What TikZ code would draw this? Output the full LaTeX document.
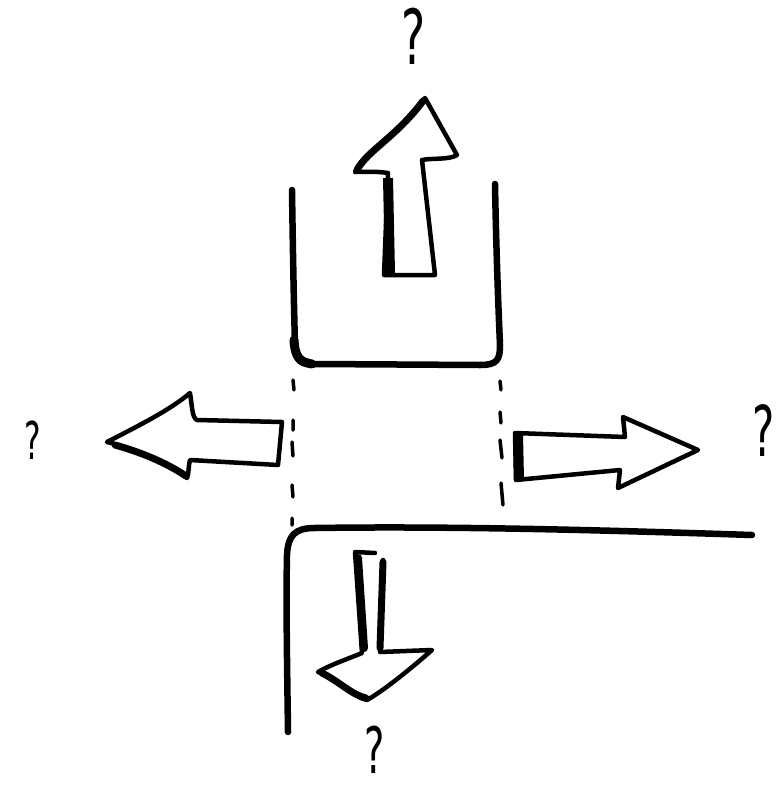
\documentclass[tikz,border=0pt]{standalone}
\usepackage{fontspec}
\newfontfamily\qfont{DejaVu Sans}
\begin{document}
\begin{tikzpicture}[x=1pt,y=-1pt,
  ink/.style={line width=6.5pt,line cap=round,line join=round},
  arr/.style={line width=4.5pt,line cap=round,line join=round},
  heavy/.style={line width=10pt,line cap=butt},
  dots/.style={line width=3.5pt,line cap=round},
  qm/.style={inner sep=0pt,font=\qfont\fontsize{76}{76}\selectfont,xscale=0.6}]
\useasboundingbox[fill=white] (0,0) rectangle (782,795);
% U shape (top box)
\draw[ink] (292,190) .. controls (293,260) and (294,310) .. (295,345)
  .. controls (296,362) and (300,364) .. (315,364) -- (480,365)
  .. controls (497,365) and (500,360) .. (500,345)
  .. controls (498,300) and (496,240) .. (495,184);
\draw[line width=9pt,line cap=round] (294,340) .. controls (295,358) and (300,362) .. (312,364);
% dotted gaps
\draw[dots] (293,380)--(294,390) (293,420)--(293,430) (292,442)--(293,456) (292,485)--(293,497) (292,518)--(292,525);
\draw[dots] (500,381)--(501,390) (500,412)--(501,423) (500,440)--(502,458) (501,483)--(503,505);
% bottom L shape
\draw[ink] (288,732) .. controls (287,660) and (286,600) .. (287,555)
  .. controls (288,535) and (295,528) .. (315,528)
  .. controls (450,526) and (600,530) .. (752,535);
% top arrow
\draw[arr,fill=white] (425,98) -- (457,155) .. controls (450,160) and (430,158) .. (422,160)
  -- (435,275) -- (384,275) -- (388,173) .. controls (375,171) and (362,172) .. (355,172)
  .. controls (362,155) and (385,142) .. (400,128) -- cycle;
\draw[heavy] (388,178) -- (390,273);
\draw[line width=7pt,line cap=round] (357,170) .. controls (368,150) and (395,138) .. (423,101);
% left arrow
\draw[arr,fill=white] (107,442) .. controls (140,425) and (170,410) .. (190,393)
  .. controls (192,405) and (192,418) .. (197,420) -- (282,422) -- (278,465) -- (190,460)
  .. controls (188,468) and (189,474) .. (187,478)
  .. controls (170,465) and (140,450) .. cycle;
\draw[line width=7pt,line cap=round] (115,445) .. controls (140,452) and (165,462) .. (186,476);
% right arrow
\draw[arr,fill=white] (515,433) -- (625,437) -- (623,417) -- (698,450) -- (618,488) -- (620,470) -- (516,480) -- cycle;
\draw[heavy] (518,434) -- (519,479);
% down arrow
\draw[arr,fill=white] (375,553) -- (355,552) -- (362,653) .. controls (345,660) and (330,665) .. (318,672)
  .. controls (340,680) and (355,698) .. (367,700)
  .. controls (385,690) and (415,665) .. (432,650)
  -- (380,652) -- (383,560);
\draw[line width=8pt,line cap=round] (358,558) -- (364,648);
\draw[line width=7pt,line cap=round] (383,562) -- (380,648);
\draw[line width=7pt,line cap=round] (322,673) .. controls (340,682) and (352,695) .. (366,698);
% question marks
\node[qm] (qtop) at (414,36) {?};
\node[qm,font=\qfont\fontsize{52}{52}\selectfont] (qleft) at (33,440) {?};
\node[qm,font=\qfont\fontsize{70}{70}\selectfont] (qright) at (764,431) {?};
\node[qm,font=\qfont\fontsize{64}{64}\selectfont] (qbottom) at (375,750) {?};
\end{tikzpicture}
\end{document}
